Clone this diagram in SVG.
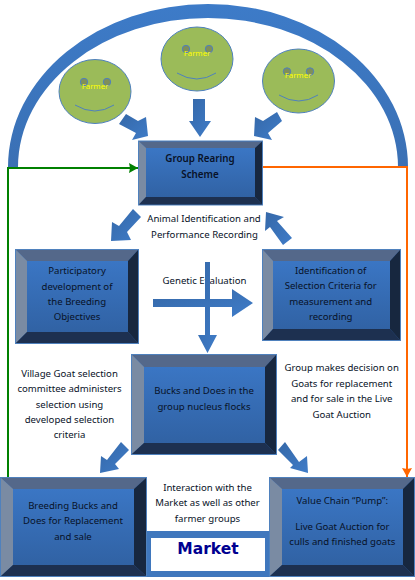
<svg xmlns="http://www.w3.org/2000/svg" width="415" height="580" viewBox="0 0 415 580">
<defs>
<linearGradient id="face" x1="0" y1="0" x2="0" y2="1"><stop offset="0" stop-color="#3c79c9"/><stop offset="1" stop-color="#2f5f9f"/></linearGradient>
<linearGradient id="block" x1="0" y1="0" x2="1" y2="1"><stop offset="0" stop-color="#3568a8"/><stop offset="1" stop-color="#3f7cc8"/></linearGradient>
<linearGradient id="archg" x1="0" y1="0" x2="0" y2="1"><stop offset="0" stop-color="#3d7bc8"/><stop offset="1" stop-color="#3a70b4"/></linearGradient>
<marker id="g" markerUnits="userSpaceOnUse" markerWidth="10" markerHeight="10" refX="9" refY="5" orient="auto"><path d="M0 0L9 5L0 10L1 5Z" fill="#008000"/></marker>
<marker id="o" markerUnits="userSpaceOnUse" markerWidth="10" markerHeight="10" refX="9" refY="5" orient="auto"><path d="M0 0L9 5L0 10L1 5Z" fill="#ff6600"/></marker>
</defs>
<style>
text{font-family:"Noto Sans","Open Sans","DejaVu Sans",sans-serif;font-size:9.6px;text-anchor:middle;fill:#081228}
.farmer{fill:#ffff00;font-size:7.800px}
.mk{font-family:"DejaVu Sans",sans-serif;font-weight:700;font-size:15.500px;fill:#000090}
.gb{font-size:9.800px;font-weight:600}
.edge{stroke:#4f81bd;stroke-width:1;fill:url(#face)}
.t{fill:#54688a}.l{fill:#7a8ba3}.r{fill:#17273f}.b{fill:#1d3050}
.head{fill:#9bbb59;stroke:#4f81bd;stroke-width:1}
.eye{fill:#7f8f5a;stroke:#4f81bd;stroke-width:1}
.smile{fill:none;stroke:#4f81bd;stroke-width:1}
.ar{fill:url(#block)}
</style>
<path id="arch" d="M8 167A200 163 0 0 1 408 167L398 167A190 149 0 0 0 18 167Z" fill="url(#archg)"/>

<g id="connectors">
<path d="M8 477V168H138" fill="none" stroke="#008000" stroke-width="2" marker-end="url(#g)"/>
<path d="M262 167H407V477" fill="none" stroke="#ff6600" stroke-width="2" marker-end="url(#o)"/>
<polygon class="ar" points="126,114 138,121 146,117 148,136 132,140 136,133 119,124"/>
<polygon class="ar" points="193,99 205,99 205,121 211,121 200,137 189,121 193,121"/>
<polygon class="ar" points="277,112 263,121 255,117 254,136 272,140 268,133 282,121"/>
<polygon class="ar" points="133,209 141,217 127,232 131,240 111,241 112,222 119,226"/>
<polygon class="ar" points="266,212 284,217 277,221 292,238 283,245 270,227 265,231"/>
<polygon class="ar" points="121,442 129,450 115,464 119,469 100,473 101,456 107,460"/>
<polygon class="ar" points="285,442 299,462 307,456 308,473 290,468 293,465 278,450"/>
</g>

<g id="farmer-left"><ellipse class="head" cx="95" cy="91.500" rx="36" ry="32"/><circle class="eye" cx="84" cy="82" r="3.700"/><circle class="eye" cx="107" cy="82" r="3.700"/><path class="smile" d="M75 105Q95 117 114 105"/><text class="farmer" x="95" y="88.500">Farmer</text></g>
<g id="farmer-middle"><ellipse class="head" cx="197" cy="59" rx="36" ry="32"/><circle class="eye" cx="186" cy="49" r="3.700"/><circle class="eye" cx="209" cy="49" r="3.700"/><path class="smile" d="M177 73Q197 85 216 73"/><text class="farmer" x="197" y="56">Farmer</text></g>
<g id="farmer-right"><ellipse class="head" cx="298.500" cy="81" rx="36" ry="32"/><circle class="eye" cx="287" cy="71.500" r="3.700"/><circle class="eye" cx="310" cy="71.500" r="3.700"/><path class="smile" d="M279 95Q299 107 318 95"/><text class="farmer" x="298" y="78">Farmer</text></g>

<g id="group-rearing">
<rect class="edge" x="138.500" y="141" width="124" height="64"/>
<polygon class="t" points="139,141.500 262,141.500 255,148 146,148"/><polygon class="l" points="139,141.500 146,148 146,197 139,204.500"/><polygon class="r" points="262,141.500 255,148 255,197 262,204.500"/><polygon class="b" points="139,204.500 146,197 255,197 262,204.500"/>
<text class="gb" x="200" y="162">Group Rearing</text><text class="gb" x="200" y="178">Scheme</text>
</g>

<g id="participatory">
<rect class="edge" x="15.500" y="249.500" width="123" height="94"/>
<polygon class="t" points="16,250 138,250 128,261 27,261"/><polygon class="l" points="16,250 27,261 27,332 16,343"/><polygon class="r" points="138,250 128,261 128,332 138,343"/><polygon class="b" points="16,343 27,332 128,332 138,343"/>
<text x="77" y="273.700">Participatory</text><text x="77" y="289.700">development of</text><text x="77" y="304.700">the Breeding</text><text x="77" y="320.300">Objectives</text>
</g>

<g id="identification">
<rect class="edge" x="262.500" y="249.500" width="138" height="91"/>
<polygon class="t" points="263,250 400,250 390,261 273,261"/><polygon class="l" points="263,250 273,261 273,329 263,340"/><polygon class="r" points="400,250 390,261 390,329 400,340"/><polygon class="b" points="263,340 273,329 390,329 400,340"/>
<text x="330.700" y="273.700">Identification of</text><text x="330.700" y="288.700">Selection Criteria for</text><text x="330.700" y="304.700">measurement and</text><text x="330.700" y="319.700">recording</text>
</g>

<g id="bucks">
<rect class="edge" x="131.500" y="354.500" width="145" height="100"/>
<polygon class="t" points="132,355 276,355 265,367 144,367"/><polygon class="l" points="132,355 144,367 144,443 132,454"/><polygon class="r" points="276,355 265,367 265,443 276,454"/><polygon class="b" points="132,454 144,443 265,443 276,454"/>
<text x="204" y="393.700">Bucks and Does in the</text><text x="204" y="409.700">group nucleus flocks</text>
</g>

<g id="breeding">
<rect class="edge" x="0.500" y="477.500" width="146" height="99"/>
<polygon class="t" points="1,478 146,478 134,489 13,489"/><polygon class="l" points="1,478 13,489 13,565 1,576"/><polygon class="r" points="146,478 134,489 134,565 146,576"/><polygon class="b" points="1,576 13,565 134,565 146,576"/>
<text x="73" y="508.700">Breeding Bucks and</text><text x="73" y="523.700">Does for Replacement</text><text x="73" y="539.700">and sale</text>
</g>

<g id="value-chain">
<rect class="edge" x="269.500" y="477.500" width="145" height="99"/>
<polygon class="t" points="270,478 414,478 403,489 282,489"/><polygon class="l" points="270,478 282,489 282,565 270,576"/><polygon class="r" points="414,478 403,489 403,565 414,576"/><polygon class="b" points="270,576 282,565 403,565 414,576"/>
<text x="342.300" y="503.700">Value Chain “Pump”:</text><text x="342.300" y="529.700">Live Goat Auction for</text><text x="342.300" y="544.700">culls and finished goats</text>
</g>

<g id="market">
<rect x="147" y="531" width="122" height="46" fill="#3f77bd"/><rect x="151" y="538" width="114" height="33" fill="#fff"/>
<text class="mk" x="208" y="554">Market</text>
</g>

<g id="labels">
<text x="204" y="222">Animal Identification and</text><text x="204.500" y="237.700">Performance Recording</text>
<text x="204.500" y="283.700">Genetic Evaluation</text>
<text x="69.500" y="376.700">Village Goat selection</text><text x="69.500" y="391.700">committee administers</text><text x="69.500" y="407.700">selection using</text><text x="69.500" y="422.700">developed selection</text><text x="69.500" y="437.700">criteria</text>
<text x="341.700" y="370.700">Group makes decision on</text><text x="341.700" y="386.700">Goats for replacement</text><text x="341.700" y="401.700">and for sale in the Live</text><text x="341.700" y="417.700">Goat Auction</text>
<text x="207.500" y="490.700">Interaction with the</text><text x="207.500" y="505.700">Market as well as other</text><text x="207.500" y="521.700">farmer groups</text>
</g>

<g id="genetic-arrows">
<polygon class="ar" points="205,262 210,262 210,335 217,335 207.500,353 198,335 205,335"/>
<polygon class="ar" points="153,299 232,299 232,289 253,303 232,317 232,307 153,307"/>
</g>
</svg>
